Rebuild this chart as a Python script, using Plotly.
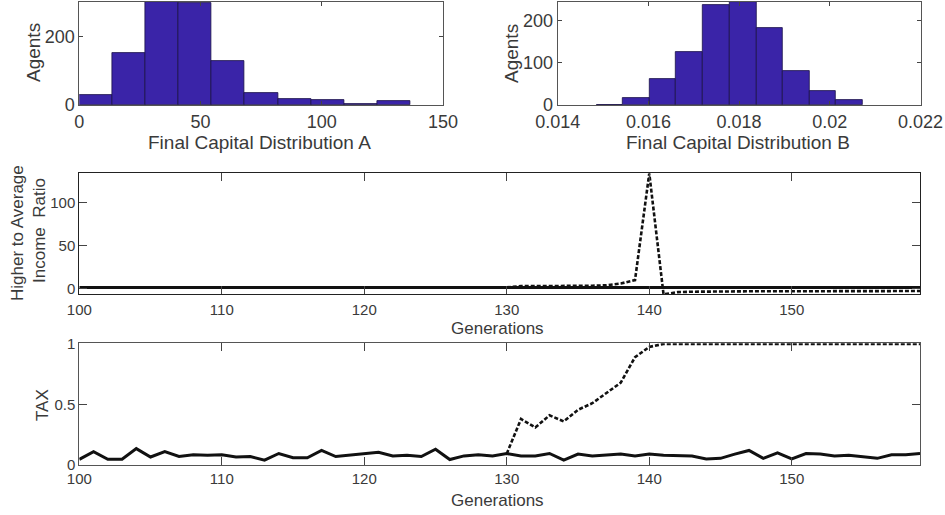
import plotly.graph_objects as go

W, H = 945, 515

# ---------------- data ----------------
a_edges = [0, 13.65, 27.3, 40.95, 54.6, 68.25, 81.9, 95.55, 109.2, 122.85, 136.5]
a_counts = [30, 153, 302, 299, 130, 34, 17, 15, 3, 11]

b_edges = [0.01485, 0.01544, 0.01603, 0.01661, 0.01720, 0.01779,
           0.01838, 0.01897, 0.01955, 0.02014, 0.02073]
b_counts = [1, 16, 62, 127, 237, 245, 184, 81, 34, 11]

generations = list(range(100, 160))

ratio_solid = [1.5, 1.6, 1.4, 1.5, 1.7, 1.5, 1.6, 1.5, 1.5, 1.5,
               1.5, 1.4, 1.5, 1.4, 1.6, 1.5, 1.5, 1.6, 1.5, 1.5,
               1.5, 1.6, 1.5, 1.5, 1.5, 1.6, 1.4, 1.5, 1.5, 1.5,
               1.5, 1.5, 1.5, 1.5, 1.4, 1.5, 1.5, 1.5, 1.5, 1.5,
               1.5, 1.5, 1.5, 1.5, 1.4, 1.4, 1.5, 1.6, 1.4, 1.5,
               1.4, 1.5, 1.5, 1.5, 1.5, 1.5, 1.4, 1.5, 1.5, 1.5]
ratio_dash_gen = list(range(130, 160))
ratio_dashed = [1.5, 3.0, 3.0, 3.0, 3.2, 3.5, 3.5, 4.0, 6.0, 10.0,
                134.0, -6.5, -4.0, -3.5, -3.2, -3.0, -3.0, -3.0, -3.0, -3.0,
                -2.9, -2.9, -2.8, -2.8, -2.8, -2.8, -2.7, -2.7, -2.7, -2.7]

tax_solid = [0.047, 0.11, 0.047, 0.047, 0.135, 0.066, 0.11, 0.07, 0.085, 0.08,
             0.085, 0.066, 0.07, 0.04, 0.095, 0.06, 0.06, 0.12, 0.07, 0.08,
             0.09, 0.105, 0.075, 0.08, 0.07, 0.13, 0.045, 0.075, 0.085, 0.075,
             0.094, 0.075, 0.075, 0.095, 0.04, 0.09, 0.075, 0.08, 0.09, 0.075,
             0.09, 0.08, 0.075, 0.075, 0.05, 0.055, 0.09, 0.12, 0.055, 0.10,
             0.05, 0.095, 0.09, 0.075, 0.08, 0.07, 0.055, 0.085, 0.085, 0.095]
tax_dash_gen = list(range(130, 160))
tax_dashed = [0.094, 0.38, 0.31, 0.41, 0.36, 0.456, 0.51, 0.596, 0.68, 0.89,
              0.975, 1.0, 1.0, 1.0, 1.0, 1.0, 1.0, 1.0, 1.0, 1.0,
              1.0, 1.0, 1.0, 1.0, 1.0, 1.0, 1.0, 1.0, 1.0, 1.0]

a_xticks = [0, 50, 100, 150]
a_yticks = [0, 200]
b_xticks = [0.014, 0.016, 0.018, 0.02, 0.022]
b_xlabels = ["0.014", "0.016", "0.018", "0.02", "0.022"]
b_yticks = [0, 100, 200]
gen_ticks = [100, 110, 120, 130, 140, 150]
ratio_yticks = [0, 50, 100]
tax_yticks = [0, 0.5, 1]

# ---------------- layout geometry (page pixels) ----------------
def dx(p0, p1):
    return [p0 / W, p1 / W]

def dy(top, bottom):
    return [1 - bottom / H, 1 - top / H]

FONT = "Liberation Sans, Arial, sans-serif"
TXT = "#3a3a3a"
BAR = "#3A24A8"

fig = go.Figure()

def centers(edges):
    return [(edges[i] + edges[i + 1]) / 2 for i in range(len(edges) - 1)]

def widths(edges):
    return [edges[i + 1] - edges[i] for i in range(len(edges) - 1)]

fig.add_trace(go.Bar(x=centers(a_edges), y=a_counts, width=widths(a_edges),
                     marker=dict(color=BAR, line=dict(color="#1b1248", width=0.8)),
                     xaxis="x", yaxis="y", showlegend=False))
fig.add_trace(go.Bar(x=centers(b_edges), y=b_counts, width=widths(b_edges),
                     marker=dict(color=BAR, line=dict(color="#1b1248", width=0.8)),
                     xaxis="x2", yaxis="y2", showlegend=False))

fig.add_trace(go.Scatter(x=generations, y=ratio_solid, mode="lines",
                         line=dict(color="#111111", width=3),
                         xaxis="x3", yaxis="y3", showlegend=False))
fig.add_trace(go.Scatter(x=ratio_dash_gen, y=ratio_dashed, mode="lines",
                         line=dict(color="#111111", width=2.6, dash="4px,2px"),
                         xaxis="x3", yaxis="y3", showlegend=False))

fig.add_trace(go.Scatter(x=generations, y=tax_solid, mode="lines",
                         line=dict(color="#111111", width=3),
                         xaxis="x4", yaxis="y4", showlegend=False))
fig.add_trace(go.Scatter(x=tax_dash_gen, y=tax_dashed, mode="lines",
                         line=dict(color="#111111", width=2.6, dash="4px,2px"),
                         xaxis="x4", yaxis="y4", showlegend=False))

def axis(domain, rng, ticks, ticklen, size, anchor, fmt=None, linecolor="#555555", standoff=None):
    d = dict(domain=domain, range=rng, tickvals=ticks, ticks="inside",
             ticklen=ticklen, tickwidth=1, tickcolor="#444444",
             showline=True, linecolor=linecolor, linewidth=1, mirror="ticks",
             showgrid=False, zeroline=False, anchor=anchor, automargin=False,
             tickfont=dict(family=FONT, size=size, color=TXT))
    if fmt is not None:
        d["ticktext"] = fmt
    if standoff is not None:
        d["ticklabelstandoff"] = standoff
    return d

top_y = dy(2, 105)
fig.update_layout(
    width=W, height=H,
    margin=dict(l=0, r=0, t=0, b=0, pad=0, autoexpand=False),
    paper_bgcolor="white", plot_bgcolor="white",
    bargap=0, showlegend=False,
    xaxis=axis(dx(79.3, 443), [0, 150], a_xticks, 4, 18, "y"),
    yaxis=axis(top_y, [0, max(a_counts)], a_yticks, 4, 18, "x"),
    xaxis2=axis(dx(557.7, 920.5), [0.014, 0.022], b_xticks, 4, 18, "y2", fmt=b_xlabels),
    yaxis2=axis(top_y, [0, max(b_counts)], b_yticks, 4, 18, "x2"),
    xaxis3=axis(dx(79.3, 920), [100, 159], gen_ticks, 8, 15, "y3", linecolor="#222222", standoff=2),
    yaxis3=axis(dy(173.3, 294.3), [-6.5, 134], ratio_yticks, 8, 15, "x3", linecolor="#222222"),
    xaxis4=axis(dx(79.3, 920), [100, 159], gen_ticks, 8, 15, "y4"),
    yaxis4=axis(dy(343.3, 465), [0, 1.005], tax_yticks, 8, 15, "x4"),
)

def label(text, x, y, size, angle=0):
    fig.add_annotation(text=text, x=x / W, y=1 - y / H,
                       xref="paper", yref="paper",
                       showarrow=False, textangle=angle, xanchor="center", yanchor="middle",
                       font=dict(family=FONT, size=size, color=TXT))

label("Agents", 33, 53, 19, -90)
label("Final Capital Distribution A", 259, 143, 19)
label("Agents", 512, 54, 19, -90)
label("Final Capital Distribution B", 738, 143, 19)
label("Higher to Average", 17, 233, 17, -90)
label("Income\u00a0 Ratio", 39, 231, 17, -90)
label("Generations", 497, 328, 17)
label("TAX", 42, 405, 17, -90)
label("Generations", 497, 500, 17)

# remove the default 8px page margin so the figure fills the window exactly
fig.write_html("out.html",
               config={"displayModeBar": False},
               post_script="document.body.style.margin='0';document.body.style.overflow='hidden';")
